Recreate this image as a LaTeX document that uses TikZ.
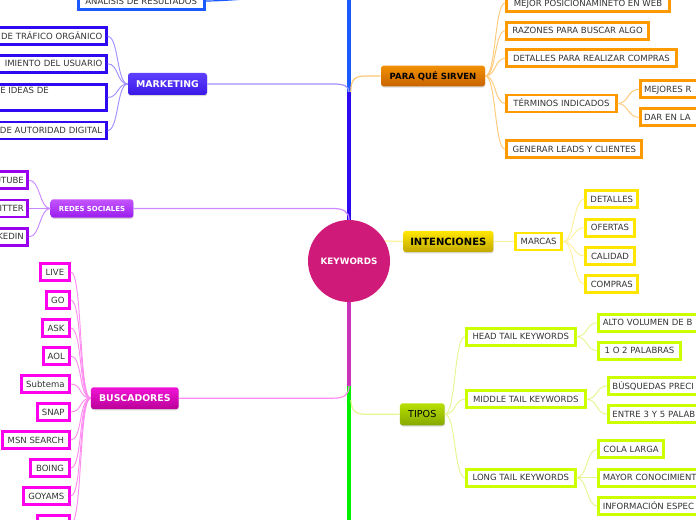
\documentclass[tikz,border=0pt]{standalone}
\usepackage{fontspec}
\setmainfont{DejaVu Sans}
\usetikzlibrary{shadows}
\definecolor{txt}{HTML}{333333}
\definecolor{anblue}{HTML}{1A5AFF}
\definecolor{mkblue}{HTML}{2E0AF0}
\definecolor{mkline}{HTML}{9E90FF}
\definecolor{mktop}{HTML}{5E40FF}
\definecolor{mkbot}{HTML}{3A18E6}
\definecolor{rdpur}{HTML}{9A00EE}
\definecolor{rdline}{HTML}{CC88FF}
\definecolor{rdtop}{HTML}{C455FF}
\definecolor{rdbot}{HTML}{9A1CEE}
\definecolor{bsmag}{HTML}{FF00EE}
\definecolor{bsline}{HTML}{FF8CF0}
\definecolor{bstop}{HTML}{F014D6}
\definecolor{bsbot}{HTML}{BB0099}
\definecolor{trmag}{HTML}{CC33BB}
\definecolor{trgreen}{HTML}{00F000}
\definecolor{pqor}{HTML}{FF9900}
\definecolor{pqline}{HTML}{FFC878}
\definecolor{pqtop}{HTML}{F29000}
\definecolor{pqbot}{HTML}{C86400}
\definecolor{inyel}{HTML}{FFE600}
\definecolor{inline}{HTML}{FFF09A}
\definecolor{intop}{HTML}{FFE800}
\definecolor{inbot}{HTML}{C2A800}
\definecolor{tpgr}{HTML}{CCFF00}
\definecolor{tpline}{HTML}{E6F590}
\definecolor{tptop}{HTML}{B8E000}
\definecolor{tpbot}{HTML}{86A800}
\definecolor{kwfill}{HTML}{D01A7A}
\tikzset{
 bx/.style={draw=#1, line width=2.2pt, fill=white, inner xsep=3pt, inner ysep=0pt,
   minimum height=12.75pt, text height=4.7pt, text depth=0pt, text=txt,
   font=\fontsize{6.4}{7.7}\selectfont},
 lclip/.style={anchor=east, text width=100pt, align=right},
 rclip/.style={anchor=west, text width=160pt, align=left},
 topic/.style={rounded corners=2pt, inner sep=0pt,
   drop shadow={shadow xshift=0.3pt, shadow yshift=-0.9pt, opacity=0.3}},
 trunk/.style={line width=2.3pt, draw=#1},
 br/.style={line width=0.9pt, draw=#1},
 lk/.style={line width=0.7pt, draw=#1},
}
\begin{document}
\begin{tikzpicture}[x=0.75pt,y=-0.75pt]
\useasboundingbox (0,0) rectangle (696,520);
\clip (0,0) rectangle (696,520);

% ---------- center ----------
\node[circle, fill=kwfill, minimum size=61.5pt, inner sep=0pt, text=white,
  font=\bfseries\fontsize{6.6}{8}\selectfont] (kw) at (349,261) {KEYWORDS};

% junction coordinates
\coordinate (antop) at (349,-25);
\coordinate (jmk) at (349,92);
\coordinate (jpq) at (350.8,92);
\coordinate (jrd) at (349,220);
\coordinate (jbs) at (349,386);
\coordinate (jtp) at (351,400);
\coordinate (gbot) at (349,540);

% ---------- main topics ----------
\node[topic, top color=mktop, bottom color=mkbot, minimum width=59.25pt, minimum height=16.5pt,
  text=white, font=\bfseries\fontsize{7}{8}\selectfont] (mk) at (167.5,84) {MARKETING};
\node[topic, top color=rdtop, bottom color=rdbot, minimum width=62pt, minimum height=13.8pt,
  text=white, font=\bfseries\fontsize{5.2}{6}\selectfont] (rd) at (92,208.5) {REDES SOCIALES};
\node[topic, top color=bstop, bottom color=bsbot, minimum width=65.8pt, minimum height=16.3pt,
  text=white, font=\bfseries\fontsize{7}{8}\selectfont] (bs) at (134.8,398.2) {BUSCADORES};
\node[topic, top color=pqtop, bottom color=pqbot, minimum width=78pt, minimum height=15.5pt,
  text=black, font=\bfseries\fontsize{6.4}{7.5}\selectfont] (pq) at (433,76) {PARA QUÉ SIRVEN};
\node[topic, top color=intop, bottom color=inbot, minimum width=67.5pt, minimum height=16pt,
  text=black, font=\bfseries\fontsize{7.5}{9}\selectfont] (in) at (448.3,241.5) {INTENCIONES};
\node[topic, top color=tptop, bottom color=tpbot, minimum width=33.5pt, minimum height=16.5pt,
  text=black, font=\fontsize{7.2}{8.5}\selectfont] (tp) at (422.3,414.3) {TIPOS};

% ---------- left: analysis & marketing ----------
\node[bx=anblue, anchor=east, minimum width=94.5pt] (an) at (205.7,1) {ANÁLISIS DE RESULTADOS};
\node[bx=mkblue, lclip] (mk1) at (107.7,36.4) {DE TRÁFICO ORGÁNICO};
\node[bx=mkblue, lclip] (mk2) at (107.7,63.8) {IMIENTO DEL USUARIO};
\node[bx=mkblue, anchor=east, minimum width=150pt, minimum height=20pt] (mk3) at (107.7,97.5) {};
\node[anchor=west, inner sep=0pt, text=txt, font=\fontsize{6.4}{7.7}\selectfont] (mk3t) at (0,90.7) {E IDEAS DE};
\node[bx=mkblue, lclip] (mk4) at (107.7,130.5) {DE AUTORIDAD DIGITAL};

% ---------- left: redes ----------
\node[bx=rdpur, lclip] (r1) at (29.3,180.3) {UTUBE};
\node[bx=rdpur, lclip] (r2) at (29.3,208.5) {ITTER};
\node[bx=rdpur, lclip] (r3) at (29.3,236.7) {KEDIN};

% ---------- left: buscadores ----------
\node[bx=bsmag, anchor=east, minimum width=21.5pt] (b1) at (70.7,272) {LIVE};
\node[bx=bsmag, anchor=east, minimum width=17pt] (b2) at (70.7,300) {GO};
\node[bx=bsmag, anchor=east, minimum width=19.8pt] (b3) at (70.7,328) {ASK};
\node[bx=bsmag, anchor=east, minimum width=19.5pt] (b4) at (70.7,356) {AOL};
\node[bx=bsmag, anchor=east, minimum width=35.8pt] (b5) at (70.7,384) {Subtema};
\node[bx=bsmag, anchor=east, minimum width=24pt] (b6) at (70.7,412) {SNAP};
\node[bx=bsmag, anchor=east, minimum width=50pt] (b7) at (70.7,440) {MSN SEARCH};
\node[bx=bsmag, anchor=east, minimum width=28.8pt] (b8) at (70.7,468) {BOING};
\node[bx=bsmag, anchor=east, minimum width=34.3pt] (b9) at (70.7,496) {GOYAMS};
\node[bx=bsmag, anchor=east, minimum width=23.8pt] (b10) at (70.7,524) {};

% ---------- right: para que sirven ----------
\node[bx=pqor, anchor=west, minimum width=121.8pt] (p1) at (505.3,3) {MEJOR POSICIONAMINETO EN WEB};
\node[bx=pqor, anchor=west, minimum width=106.3pt] (p2) at (505.3,30.7) {RAZONES PARA BUSCAR ALGO};
\node[bx=pqor, anchor=west, minimum width=127pt] (p3) at (505.3,58.3) {DETALLES PARA REALIZAR COMPRAS};
\node[bx=pqor, anchor=west, minimum width=82pt] (p4) at (505.3,103.5) {TÉRMINOS INDICADOS};
\node[bx=pqor, anchor=west, minimum width=101.3pt] (p5) at (505.3,149.3) {GENERAR LEADS Y CLIENTES};
\node[bx=pqor, rclip] (p41) at (638.7,89.3) {MEJORES R};
\node[bx=pqor, rclip] (p42) at (638.7,117.3) {DAR EN LA};

% ---------- right: intenciones ----------
\node[bx=inyel, anchor=west, minimum width=34.7pt] (ma) at (514,241.5) {MARCAS};
\node[bx=inyel, anchor=west, minimum width=39pt] (m1) at (584.3,199.3) {DETALLES};
\node[bx=inyel, anchor=west, minimum width=36.3pt] (m2) at (584.3,227.7) {OFERTAS};
\node[bx=inyel, anchor=west, minimum width=36.3pt] (m3) at (584.3,256) {CALIDAD};
\node[bx=inyel, anchor=west, minimum width=39pt] (m4) at (584.3,284) {COMPRAS};

% ---------- right: tipos ----------
\node[bx=tpgr, anchor=west, minimum width=81.5pt] (h) at (465,336.7) {HEAD TAIL KEYWORDS};
\node[bx=tpgr, anchor=west, minimum width=89pt] (md) at (465,399.3) {MIDDLE TAIL KEYWORDS};
\node[bx=tpgr, anchor=west, minimum width=81.5pt] (lg) at (465,477.7) {LONG TAIL KEYWORDS};
\node[bx=tpgr, rclip] (h1) at (597.3,322.7) {ALTO VOLUMEN DE B};
\node[bx=tpgr, anchor=west, minimum width=61pt] (h2) at (597.3,350.7) {1 O 2 PALABRAS};
\node[bx=tpgr, rclip] (md1) at (607,386) {BÚSQUEDAS PRECI};
\node[bx=tpgr, rclip] (md2) at (607,414) {ENTRE 3 Y 5 PALAB};
\node[bx=tpgr, anchor=west, minimum width=48.5pt] (lg1) at (597.3,449.3) {COLA LARGA};
\node[bx=tpgr, rclip] (lg2) at (597.3,477.7) {MAYOR CONOCIMIENT};
\node[bx=tpgr, rclip] (lg3) at (597.3,506) {INFORMACIÓN ESPEC};

% ---------- trunk ----------
\draw[trunk=anblue] (kw.north) -- (antop);
\draw[trunk=mkblue] (kw.north) -- (jmk);
\draw[trunk=trgreen] (kw.south) -- (gbot);
\draw[trunk=trmag] (kw.south) -- (jbs);

% ---------- branches from trunk ----------
\draw[br=anblue] (an.east) .. controls (235,1) and (349,-8) .. (antop);
\draw[br=mkline] (jmk) .. controls (349,86) and (344,84) .. (333,84) -- (mk.east);
\draw[br=rdline] (jrd) .. controls (349,212) and (344,208.5) .. (333,208.5) -- (rd.east);
\draw[br=bsline] (jbs) .. controls (349,395) and (344,398.2) .. (333,398.2) -- (bs.east);
\draw[br=pqline] (jpq) .. controls (350.8,80) and (354,76) .. (366,76) -- (pq.west);
\draw[br=tpline] (jtp) .. controls (351,410) and (355,414.3) .. (366,414.3) -- (tp.west);
\draw[br=inline] (kw.29) -- (in.west);

% ---------- child links ----------
\foreach \c in {mk1,mk2,mk3,mk4}
  \draw[lk=mkline] (mk.west) .. controls +(-11,0) and +(11,0) .. (\c.east);
\foreach \c in {r1,r2,r3}
  \draw[lk=rdline] (rd.west) .. controls +(-11,0) and +(11,0) .. (\c.east);
\foreach \c in {b1,b2,b3,b4,b5,b6,b7,b8,b9,b10}
  \draw[lk=bsline] (bs.west) .. controls +(-12,0) and +(12,0) .. (\c.east);
\foreach \c in {p1,p2,p3,p4,p5}
  \draw[lk=pqline] (pq.east) .. controls +(11,0) and +(-11,0) .. (\c.west);
\foreach \c in {p41,p42}
  \draw[lk=pqline] (p4.east) .. controls +(11,0) and +(-11,0) .. (\c.west);
\draw[lk=inline] (in.east) -- (ma.west);
\foreach \c in {m1,m2,m3,m4}
  \draw[lk=inline] (ma.east) .. controls +(11,0) and +(-11,0) .. (\c.west);
\foreach \c in {h,md,lg}
  \draw[lk=tpline] (tp.east) .. controls +(11,0) and +(-11,0) .. (\c.west);
\foreach \c in {h1,h2}
  \draw[lk=tpline] (h.east) .. controls +(11,0) and +(-11,0) .. (\c.west);
\foreach \c in {md1,md2}
  \draw[lk=tpline] (md.east) .. controls +(11,0) and +(-11,0) .. (\c.west);
\foreach \c in {lg1,lg2,lg3}
  \draw[lk=tpline] (lg.east) .. controls +(11,0) and +(-11,0) .. (\c.west);
\end{tikzpicture}
\end{document}
